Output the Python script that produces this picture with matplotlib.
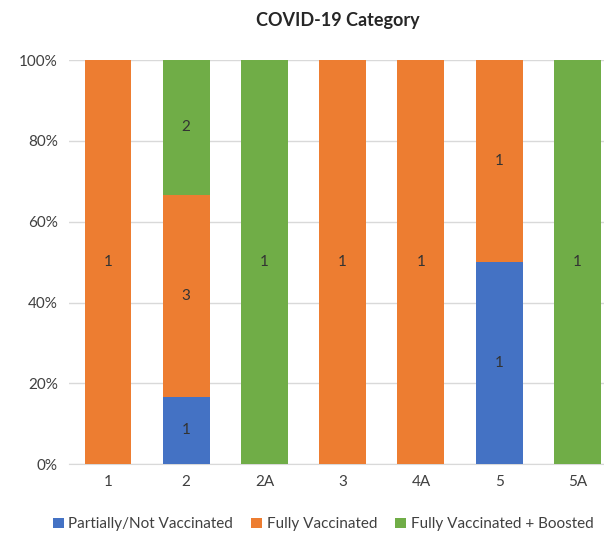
import numpy as np
import matplotlib
matplotlib.use('Agg')
import matplotlib.pyplot as plt
from matplotlib.ticker import PercentFormatter

plt.rcParams['font.family'] = ['Lato', 'DejaVu Sans']

categories = ['1', '2', '2A', '3', '4A', '5', '5A']
partial = [0, 1, 0, 0, 0, 1, 0]
fully = [1, 3, 0, 1, 1, 1, 0]
boosted = [0, 2, 1, 0, 0, 0, 1]

C_PART = '#4472C4'
C_FULL = '#ED7D31'
C_BOOST = '#70AD47'

counts = np.array([partial, fully, boosted], dtype=float)
totals = counts.sum(axis=0)
shares = counts / totals

fig = plt.figure(figsize=(6.04, 5.36), dpi=100)
ax = fig.add_axes([0.114, 0.134, 0.886, 0.754])

x = np.arange(len(categories))
bottom = np.zeros(len(categories))
names = ['Partially/Not Vaccinated', 'Fully Vaccinated', 'Fully Vaccinated + Boosted']
for row, share, color, name in zip(counts, shares, [C_PART, C_FULL, C_BOOST], names):
    ax.bar(x, share, 0.6, bottom=bottom, color=color, label=name, zorder=3)
    for i in range(len(x)):
        if row[i] > 0:
            ax.text(x[i], bottom[i] + share[i] / 2, f'{int(row[i])}', ha='center', va='center',
                    fontsize=11, color='#333333', zorder=4)
    bottom += share

ax.set_xlim(-0.5, 6.34)
ax.set_ylim(0, 1)
ax.set_yticks(np.arange(0, 1.01, 0.2))
ax.yaxis.set_major_formatter(PercentFormatter(1.0, decimals=0))
ax.set_xticks(x)
ax.set_xticklabels(categories)
ax.tick_params(axis='both', length=0, labelsize=11, colors='#404040', pad=8)
ax.grid(axis='y', color='#D9D9D9', linewidth=1, zorder=0)
for s in ['top', 'right', 'left']:
    ax.spines[s].set_visible(False)
ax.spines['bottom'].set_color('#D9D9D9')

fig.text(0.56, 0.962, 'COVID-19 Category', ha='center', va='center', fontsize=13,
         fontweight='bold', color='#262626')
fig.legend(loc='center', bbox_to_anchor=(0.535, 0.022), ncol=3, frameon=False, fontsize=11,
           handlelength=0.7, handleheight=0.7, handletextpad=0.3, columnspacing=1.2,
           labelcolor='#404040')

fig.savefig('out.png', dpi=100)
